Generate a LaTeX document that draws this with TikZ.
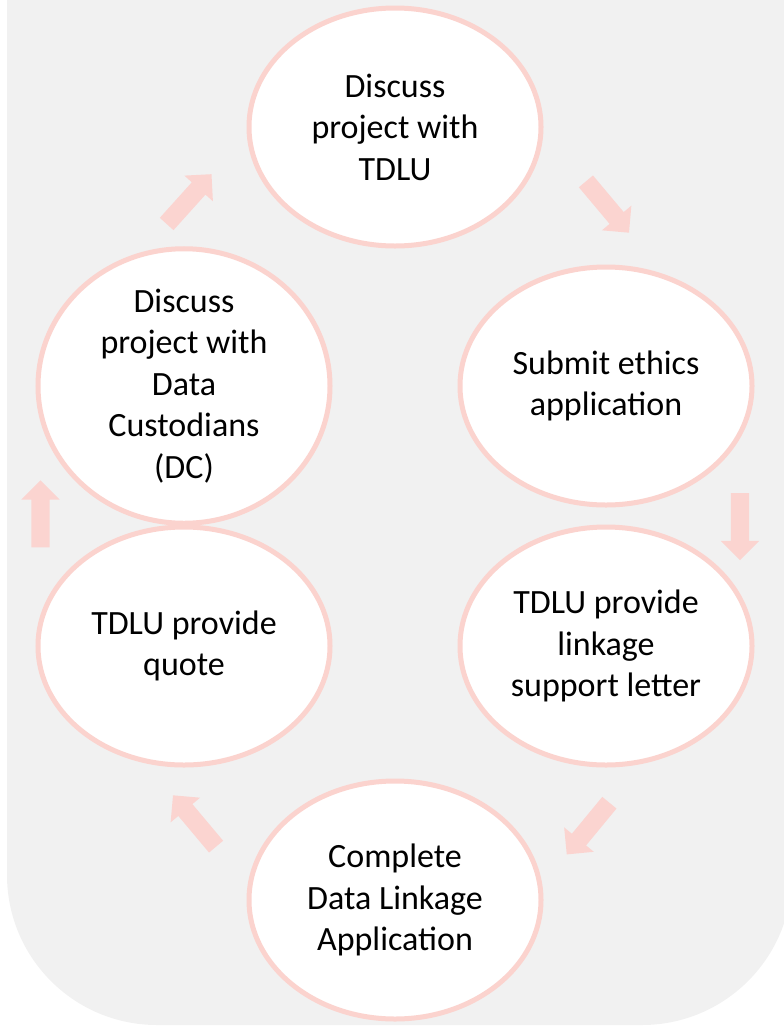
\documentclass[tikz,border=0pt]{standalone}
\usepackage{fontspec}
\setmainfont{Carlito}
\usetikzlibrary{shapes.geometric,shapes.arrows}
\definecolor{bggrey}{RGB}{241,241,241}
\definecolor{pinkline}{RGB}{251,211,206}
\definecolor{pinkarrow}{RGB}{251,212,208}
\tikzset{
  ell/.style={ellipse, draw=pinkline, line width=5bp, fill=white,
    minimum width=292bp, minimum height=238bp, inner sep=0pt, align=center,
    font=\fontsize{34bp}{41.5bp}\selectfont},
  blockarrow/.style={single arrow, fill=pinkarrow, draw=none,
    inner xsep=0pt, inner ysep=9bp,
    minimum height=67bp, single arrow head extend=10bp,
    single arrow tip angle=90}
}
\begin{document}
\begin{tikzpicture}[x=1bp,y=-1bp]
\useasboundingbox (0,0) rectangle (784,1026);
\clip (0,0) rectangle (784,1026);
\fill[bggrey, rounded corners=150bp] (7,-300) rectangle (792,1025);
\node[ell] (e1) at (395,127) {Discuss\\project with\\TDLU};
\node[ell] (e2) at (606,386) {Submit ethics\\application};
\node[ell] (e3) at (606,646) {TDLU provide\\linkage\\support letter};
\node[ell] (e4) at (395,900) {Complete\\Data Linkage\\Application};
\node[ell] (e5) at (184,646) {TDLU provide\\quote};
\node[ell] (e6) at (184,386) {Discuss\\project with\\Data\\Custodians\\(DC)};
\node[blockarrow, rotate=48] (a61) at (186,202.5) {};
\node[blockarrow, rotate=-50] (a12) at (604.5,203.5) {};
\node[blockarrow, rotate=-90] (a23) at (740,522) {};
\node[blockarrow, rotate=230.5] (a34) at (591,825) {};
\node[blockarrow, rotate=130] (a45) at (197.5,824.5) {};
\node[blockarrow, rotate=90] (a56) at (40.5,518.5) {};
\end{tikzpicture}
\end{document}
